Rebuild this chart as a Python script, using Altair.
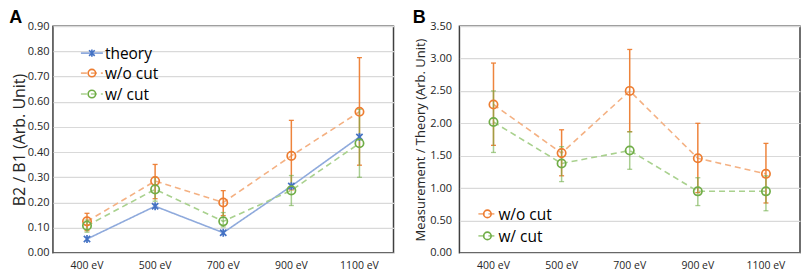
import altair as alt
import pandas as pd

energies = ["400 eV", "500 eV", "700 eV", "900 eV", "1100 eV"]

# Panel A: B2 / B1
a_theory = [0.055, 0.185, 0.080, 0.265, 0.460]
a_wo = [0.125, 0.285, 0.200, 0.385, 0.560]
a_wo_hi = [0.157, 0.351, 0.247, 0.526, 0.775]
a_wo_lo = [0.088, 0.215, 0.148, 0.250, 0.348]
a_w = [0.108, 0.252, 0.125, 0.248, 0.435]
a_w_hi = [0.130, 0.300, 0.160, 0.307, 0.570]
a_w_lo = [0.082, 0.205, 0.103, 0.188, 0.300]

# Panel B: Measurement / Theory
b_wo = [2.29, 1.54, 2.50, 1.46, 1.22]
b_wo_hi = [2.93, 1.90, 3.14, 2.00, 1.69]
b_wo_lo = [1.66, 1.19, 1.87, 0.93, 0.77]
b_w = [2.02, 1.38, 1.58, 0.95, 0.95]
b_w_hi = [2.50, 1.64, 1.87, 1.16, 1.19]
b_w_lo = [1.55, 1.10, 1.29, 0.73, 0.65]

FONT = "Open Sans"
BLUE, ORANGE, GREEN = "#4472C4", "#ED7D31", "#70AD47"
ASTERISK = "M-1,-1L1,1M-1,1L1,-1M0,-1.25L0,1.25"

def frame(series):
    rows = []
    for name, vals, lo, hi in series:
        for i, e in enumerate(energies):
            rows.append({"energy": e, "series": name, "value": vals[i],
                         "lo": lo[i] if lo else None, "hi": hi[i] if hi else None})
    return pd.DataFrame(rows)

style = {
    "theory": dict(color=BLUE, line="#8FAADC", dash=[1, 0], shape=ASTERISK, size=40, err=BLUE, eo=1.0),
    "w/o cut": dict(color=ORANGE, line="#F4B183", dash=[6, 4], shape="circle", size=70, err=ORANGE, eo=0.95),
    "w/ cut": dict(color=GREEN, line="#A9D18E", dash=[6, 4], shape="circle", size=70, err=GREEN, eo=0.6),
}

def panel(df, names, ymax, ystep, ytitle, tfs, lpad, tpad, letter, legend_x, legend_ys, width):
    x = alt.X("energy:N", sort=energies, title=None,
              axis=alt.Axis(labelAngle=0, ticks=False, domain=False, labelPadding=8,
                            labelFontSize=10.5, labelFont=FONT, labelColor="#262626"))
    ticks = [round(i * ystep, 2) for i in range(int(round(ymax / ystep)) + 1)]
    yaxis = alt.Axis(values=ticks, format=".2f", ticks=False, domain=False, labelOverlap=False,
                     labelPadding=lpad, labelFontSize=11, labelFont=FONT, labelColor="#262626",
                     titleFont=FONT, titleFontSize=tfs, titleFontWeight="normal",
                     titleColor="#262626", titlePadding=tpad,
                     gridColor="#D9D9D9", gridWidth=1.2)
    yscale = alt.Scale(domain=[0, ymax], nice=False)
    y = alt.Y("value:Q", title=ytitle, scale=yscale, axis=yaxis)
    ylo = alt.Y("lo:Q", title=ytitle, scale=yscale, axis=yaxis)
    yhi = alt.Y("hi:Q", title=ytitle, scale=yscale, axis=yaxis)
    base = alt.Chart(df)
    lines, errs, pts = [], [], []
    for n in names:
        s = style[n]
        f = base.transform_filter(alt.datum.series == n)
        lines.append(f.mark_line(strokeWidth=1.6, strokeDash=s["dash"], color=s["line"]).encode(x=x, y=y))
        if n != "theory":
            errs.append(f.mark_rule(strokeWidth=1.5, color=s["err"], opacity=s["eo"]).encode(
                x=x, y=ylo, y2="hi:Q"))
            for yy in [ylo, yhi]:
                errs.append(f.mark_tick(size=5, thickness=1.3, color=s["err"], opacity=s["eo"]).encode(
                    x=x, y=yy))
        pts.append(f.mark_point(shape=s["shape"], size=s["size"], filled=False,
                                strokeWidth=1.7, color=s["color"], opacity=1).encode(x=x, y=y))
    leg = []
    lx0, lx1 = legend_x
    for n, ly in zip(names, legend_ys):
        s = style[n]
        d = alt.Chart(alt.Data(values=[{"s": n}]))
        leg.append(d.mark_rule(strokeWidth=1.6, strokeDash=s["dash"], color=s["line"]).encode(
            x=alt.value(lx0), x2=alt.value(lx1), y=alt.value(ly)))
        leg.append(d.mark_point(shape=s["shape"], size=s["size"] * 0.8, filled=False,
                                strokeWidth=1.6, color=s["color"], opacity=1).encode(
            x=alt.value((lx0 + lx1) / 2), y=alt.value(ly)))
        leg.append(d.mark_text(align="left", baseline="middle", fontSize=15.5, font=FONT,
                               color="#000000").encode(
            x=alt.value(lx1 + 2), y=alt.value(ly + 1), text="s:N"))
    return alt.layer(*lines, *errs, *pts, *leg).properties(
        title=alt.TitleParams(letter, anchor="start", frame="bounds", fontSize=18,
                              font="Liberation Sans", fontWeight="bold", color="#000000",
                              offset=-7, dx=-2),
        width=width, height=227)

dfA = frame([("theory", a_theory, None, None), ("w/o cut", a_wo, a_wo_lo, a_wo_hi),
             ("w/ cut", a_w, a_w_lo, a_w_hi)])
dfB = frame([("w/o cut", b_wo, b_wo_lo, b_wo_hi), ("w/ cut", b_w, b_w_lo, b_w_hi)])

A = panel(dfA, ["theory", "w/o cut", "w/ cut"], 0.9, 0.1, "B2 / B1 (Arb. Unit)", 16, 4, 0, "A",
          (28, 50), [27, 47, 68], 341)
B = panel(dfB, ["w/o cut", "w/ cut"], 3.5, 0.5, "Measurement / Theory (Arb. Unit)", 13, 8, 2, "B",
          (19, 37), [188, 210], 341)

chart = alt.hconcat(A, B, spacing=17).configure(padding=0).configure_view(
    stroke="#404040", strokeWidth=1.5)

chart.save("out.html", embed_options={"renderer": "svg", "actions": False})
